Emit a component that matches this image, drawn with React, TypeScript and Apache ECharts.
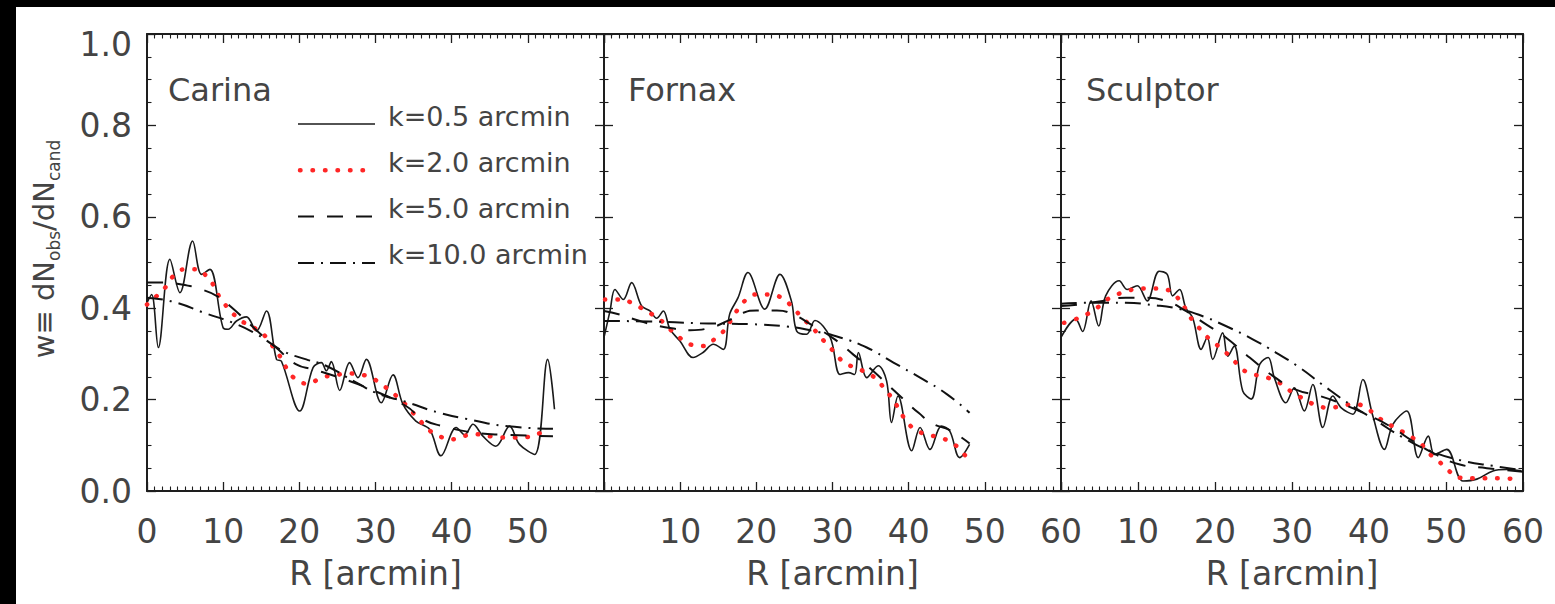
import React, { useEffect, useRef } from "react";
import * as echarts from "echarts";

// ---------- data ----------
const panelNames = ["Carina", "Fornax", "Sculptor"];
const legendLabels = ["k=0.5 arcmin", "k=2.0 arcmin", "k=5.0 arcmin", "k=10.0 arcmin"];
const xTickMin = 0;
const xTickMax = 60;
const xTickStep = 10;
const yTickMin = 0;
const yTickMax = 1;
const yTickStep = 0.2;
const xAxisTitle = "R [arcmin]";

const carinaK05: number[][] = [[0,0.412],[0.61,0.430],[1.49,0.314],[3.01,0.507],[4.33,0.434],[5.99,0.547],[7.16,0.474],[8.26,0.485],[10.0,0.357],[10.66,0.354],[11.75,0.372],[13.06,0.381],[14.37,0.350],[15.68,0.394],[17.0,0.288],[17.65,0.284],[20.05,0.175],[21.8,0.270],[22.9,0.281],[23.55,0.263],[24.2,0.283],[25.3,0.220],[26.6,0.281],[27.7,0.248],[28.8,0.288],[30.76,0.193],[32.3,0.254],[33.6,0.190],[35.3,0.153],[37.1,0.135],[38.6,0.077],[40.6,0.139],[41.7,0.123],[42.8,0.146],[44.1,0.120],[45.8,0.098],[47.6,0.142],[48.9,0.102],[50.9,0.080],[52.6,0.288],[53.5,0.179]];
const carinaK2: number[][] = [[0,0.408],[1.49,0.430],[2.58,0.449],[3.45,0.470],[4.98,0.485],[6.6,0.485],[7.82,0.470],[8.78,0.449],[9.57,0.423],[10.66,0.400],[11.75,0.381],[13.06,0.365],[14.37,0.354],[15.68,0.336],[16.78,0.310],[17.65,0.290],[18.5,0.264],[19.6,0.244],[21.1,0.235],[22.9,0.248],[24.6,0.253],[26.4,0.257],[27.9,0.255],[29.4,0.248],[31.0,0.231],[32.3,0.214],[33.6,0.195],[34.7,0.175],[35.8,0.155],[36.9,0.135],[38.4,0.120],[39.9,0.113],[41.5,0.120],[43.2,0.124],[45.0,0.120],[46.5,0.117],[48.2,0.117],[49.8,0.118],[51.5,0.126],[53.0,0.135]];
const carinaK5: number[][] = [[0,0.456],[1.92,0.456],[4.54,0.452],[7.16,0.441],[9.13,0.427],[10.9,0.405],[13.5,0.365],[17.2,0.310],[19.6,0.277],[21.8,0.266],[25.3,0.248],[29.7,0.220],[34.0,0.186],[36.2,0.157],[38.8,0.142],[42.8,0.128],[47.1,0.123],[53.3,0.120]];
const carinaK10: number[][] = [[0,0.423],[3.45,0.414],[7.82,0.388],[11.3,0.368],[14.4,0.343],[17.9,0.306],[20.9,0.288],[23.5,0.274],[27.5,0.237],[30.5,0.212],[34.0,0.195],[38.4,0.171],[42.8,0.155],[47.1,0.142],[53.3,0.136]];

const fornaxK05: number[][] = [[0,0.336],[0.79,0.394],[1.44,0.441],[2.54,0.419],[3.63,0.456],[4.94,0.405],[6.04,0.394],[6.91,0.378],[7.79,0.394],[8.66,0.354],[9.97,0.328],[11.7,0.292],[13.0,0.303],[14.35,0.321],[15.66,0.310],[16.5,0.387],[17.6,0.423],[18.9,0.478],[21.1,0.398],[23.1,0.474],[24.6,0.416],[25.3,0.350],[26.6,0.343],[27.7,0.373],[29.7,0.336],[31.0,0.255],[32.1,0.259],[32.9,0.255],[33.4,0.303],[34.5,0.248],[36.0,0.274],[37.1,0.241],[37.75,0.150],[38.6,0.208],[40.4,0.088],[41.5,0.139],[42.8,0.091],[44.3,0.142],[45.4,0.131],[46.7,0.073],[48.0,0.102]];
const fornaxK2: number[][] = [[0.13,0.419],[2.1,0.419],[3.63,0.412],[4.94,0.400],[6.26,0.387],[7.57,0.372],[8.66,0.354],[9.89,0.336],[11.3,0.321],[12.8,0.317],[14.8,0.336],[15.9,0.354],[16.75,0.376],[17.6,0.398],[18.7,0.419],[20.0,0.430],[21.8,0.430],[23.3,0.423],[24.6,0.405],[25.7,0.385],[27.0,0.363],[28.1,0.344],[29.2,0.322],[30.3,0.303],[31.4,0.283],[32.9,0.270],[34.5,0.259],[35.8,0.244],[36.9,0.222],[37.9,0.201],[38.8,0.177],[39.7,0.153],[41.0,0.133],[42.6,0.123],[44.1,0.117],[45.6,0.106],[46.9,0.088],[47.9,0.066]];
const fornaxK5: number[][] = [[0,0.394],[2.3,0.385],[4.5,0.373],[6.7,0.363],[8.9,0.356],[11.3,0.352],[13.9,0.357],[16.3,0.373],[18.3,0.390],[20.0,0.395],[22.7,0.395],[24.6,0.388],[27.5,0.361],[30.1,0.334],[32.7,0.299],[35.3,0.263],[37.3,0.232],[39.3,0.201],[41.3,0.171],[43.2,0.147],[45.4,0.133],[48.0,0.104]];
const fornaxK10: number[][] = [[0,0.372],[6.0,0.371],[12.6,0.367],[19.2,0.365],[24.0,0.360],[27.5,0.350],[31.0,0.336],[34.5,0.314],[38.0,0.281],[41.5,0.248],[45.0,0.212],[48.0,0.171]];

const sculptorK05: number[][] = [[0,0.336],[1.9,0.376],[2.8,0.349],[3.9,0.416],[4.9,0.361],[5.8,0.427],[7.55,0.460],[8.6,0.441],[9.9,0.449],[11.2,0.416],[12.75,0.481],[13.8,0.474],[14.5,0.427],[15.4,0.441],[16.2,0.401],[17.1,0.379],[18.2,0.310],[19.0,0.336],[19.7,0.288],[21.0,0.346],[21.65,0.295],[22.5,0.317],[23.6,0.219],[24.7,0.201],[25.8,0.277],[26.9,0.292],[27.7,0.248],[29.2,0.193],[30.3,0.226],[31.6,0.175],[32.7,0.233],[34.0,0.139],[35.3,0.208],[36.4,0.182],[37.9,0.168],[39.2,0.244],[40.5,0.164],[42.0,0.091],[43.1,0.146],[44.9,0.175],[46.4,0.073],[47.7,0.120],[48.5,0.080],[50.1,0.091],[52.2,0.022],[54.0,0.026],[56.1,0.044],[57.9,0.047],[59.8,0.044]];
const sculptorK2: number[][] = [[0.4,0.368],[1.9,0.376],[3.4,0.387],[4.7,0.401],[6.0,0.419],[7.3,0.430],[8.85,0.439],[10.4,0.443],[12.1,0.443],[13.6,0.441],[14.9,0.427],[16.2,0.398],[17.1,0.373],[18.2,0.352],[19.3,0.332],[20.6,0.315],[21.9,0.295],[22.95,0.277],[24.25,0.259],[25.8,0.252],[27.5,0.244],[28.8,0.232],[30.1,0.215],[31.6,0.201],[33.1,0.188],[34.9,0.182],[36.4,0.186],[38.1,0.190],[39.65,0.182],[40.95,0.164],[42.5,0.147],[43.8,0.135],[45.3,0.120],[46.6,0.106],[47.7,0.084],[49.0,0.066],[50.3,0.045],[51.8,0.029],[53.5,0.028],[55.1,0.028],[56.8,0.028],[58.3,0.027],[59.8,0.026]];
const sculptorK5: number[][] = [[0,0.405],[2.3,0.408],[5.4,0.416],[8.4,0.423],[11.0,0.423],[13.6,0.416],[16.2,0.394],[18.8,0.365],[21.4,0.336],[24.5,0.292],[27.5,0.252],[30.5,0.222],[33.6,0.208],[36.6,0.190],[39.65,0.168],[42.7,0.142],[45.7,0.109],[48.8,0.079],[51.8,0.058],[55.3,0.050],[60.0,0.042]];
const sculptorK10: number[][] = [[0,0.410],[4.1,0.412],[8.4,0.412],[11.9,0.407],[14.9,0.400],[18.0,0.385],[21.4,0.361],[24.9,0.332],[27.9,0.303],[31.0,0.270],[34.0,0.232],[37.5,0.190],[41.0,0.153],[44.4,0.117],[47.9,0.088],[52.2,0.066],[56.1,0.055],[60.0,0.045]];

const panelData = [
  [carinaK05, carinaK2, carinaK5, carinaK10],
  [fornaxK05, fornaxK2, fornaxK5, fornaxK10],
  [sculptorK05, sculptorK2, sculptorK5, sculptorK10],
];

// ---------- styles ----------
const FONT = "DejaVu Sans";
const TEXT = "#444444";
const AXIS = "#1e1e1e";
const lineStyles = [
  { color: "#1a1a1a", width: 1.6, type: "solid" as any, cap: "butt", smooth: 0.35 },
  { color: "#ff2626", width: 4.5, type: [0.5, 12] as any, cap: "round", smooth: 0.5 },
  { color: "#111111", width: 2, type: [16, 13] as any, cap: "butt", smooth: 0.5 },
  { color: "#111111", width: 2, type: [16, 7, 2, 7] as any, cap: "butt", smooth: 0.5 },
];
const drawOrder = [0, 2, 3, 1];

const gridTop = 34;
const gridHeight = 457;
const grids = [
  { left: 147, width: 457 },
  { left: 604, width: 457 },
  { left: 1061, width: 462 },
];

export default function App() {
  const ref = useRef<HTMLDivElement>(null);
  useEffect(() => {
    if (!ref.current) return;
    const chart = echarts.init(ref.current, undefined, { renderer: "svg" });

    const tickCommon = (len: number) => ({
      show: true,
      inside: true,
      length: len,
      lineStyle: { color: AXIS, width: 1.3 },
    });
    const xAxes: any[] = [];
    const yAxes: any[] = [];
    grids.forEach((g, i) => {
      const baseX = {
        gridIndex: i,
        type: "value",
        min: xTickMin,
        max: xTickMax,
        interval: xTickStep,
        axisLine: { show: true, onZero: false, lineStyle: { color: AXIS, width: 2 } },
        axisTick: tickCommon(9),
        minorTick: { show: true, splitNumber: 10, length: 4.5, lineStyle: { color: AXIS, width: 1.1 } },
        splitLine: { show: false },
        minorSplitLine: { show: false },
      };
      xAxes.push({
        ...baseX,
        position: "bottom",
        axisLabel: {
          show: true,
          margin: 24,
          fontSize: 33,
          fontFamily: FONT,
          color: TEXT,
          showMinLabel: i === 0,
          showMaxLabel: i !== 0,
        },
        name: xAxisTitle,
        nameLocation: "middle",
        nameGap: 66,
        nameTextStyle: { fontSize: 33, fontFamily: FONT, color: TEXT },
      });
      xAxes.push({ ...baseX, position: "top", axisLabel: { show: false } });

      const baseY = {
        gridIndex: i,
        type: "value",
        min: yTickMin,
        max: yTickMax,
        interval: yTickStep,
        axisLine: { show: true, onZero: false, lineStyle: { color: AXIS, width: 2 } },
        axisTick: tickCommon(9),
        minorTick: { show: true, splitNumber: 4, length: 4.5, lineStyle: { color: AXIS, width: 1.1 } },
        splitLine: { show: false },
        minorSplitLine: { show: false },
      };
      yAxes.push({
        ...baseY,
        position: "left",
        axisLabel: {
          show: i === 0,
          margin: 15,
          fontSize: 33,
          fontFamily: FONT,
          color: TEXT,
          formatter: (v: number) => (v === yTickMax ? "{t|" + v.toFixed(1) + "}" : v.toFixed(1)),
          rich: { t: { fontSize: 33, fontFamily: FONT, color: TEXT, padding: [20, 0, 0, 0] } },
        },
      });
      yAxes.push({ ...baseY, position: "right", axisLabel: { show: false } });
    });

    const series: any[] = [];
    panelData.forEach((curves, p) => {
      drawOrder.forEach((k) => {
        const st = lineStyles[k];
        series.push({
          type: "line",
          name: legendLabels[k],
          xAxisIndex: p * 2,
          yAxisIndex: p * 2,
          data: curves[k],
          symbol: "none",
          showSymbol: false,
          smooth: st.smooth,
          silent: true,
          lineStyle: { color: st.color, width: st.width, type: st.type, cap: st.cap },
          z: 2 + k,
        });
      });
    });

    const graphic: any[] = [
      { type: "rect", left: 0, top: 0, shape: { width: 1555, height: 7 }, style: { fill: "#000" }, z: 100 },
      { type: "rect", left: 0, top: 0, shape: { width: 16, height: 604 }, style: { fill: "#000" }, z: 100 },
    ];
    const nameX = [168, 628, 1086];
    panelNames.forEach((n, i) => {
      graphic.push({
        type: "text",
        x: nameX[i],
        y: 90,
        style: { text: n, fontSize: 32, fontFamily: FONT, fill: TEXT, align: "left", verticalAlign: "middle" },
        z: 50,
      });
    });
    // legend
    legendLabels.forEach((lab, k) => {
      const st = lineStyles[k];
      const yLine = 124 + 46.3 * k;
      graphic.push({
        type: "line",
        shape: { x1: k === 1 ? 300 : 298, y1: yLine, x2: k === 1 ? 367 : 375, y2: yLine },
        style: {
          stroke: st.color,
          lineWidth: st.width,
          lineDash: Array.isArray(st.type) ? st.type : null,
          lineCap: st.cap,
        },
        z: 50,
      });
      graphic.push({
        type: "text",
        x: 388,
        y: 116 + 46.3 * k,
        style: { text: lab, fontSize: 27, fontFamily: FONT, fill: TEXT, align: "left", verticalAlign: "middle" },
        z: 50,
      });
    });
    // y axis title
    graphic.push({
      type: "text",
      x: 46,
      y: 249,
      rotation: Math.PI / 2,
      style: {
        text: "{m|w≡ dN}{s|obs}{m|/dN}{s|cand}",
        align: "center",
        verticalAlign: "middle",
        rich: {
          m: { fontSize: 29, fontFamily: FONT, fill: TEXT, padding: [0, 0, 4, 0] },
          s: { fontSize: 17, fontFamily: FONT, fill: TEXT, verticalAlign: "bottom" },
        },
      },
      z: 50,
    });

    chart.setOption({
      animation: false,
      backgroundColor: "#ffffff",
      textStyle: { fontFamily: FONT },
      grid: grids.map((g) => ({
        left: g.left,
        width: g.width,
        top: gridTop,
        height: gridHeight,
        containLabel: false,
        outerBoundsMode: "none",
      })),
      xAxis: xAxes,
      yAxis: yAxes,
      series,
      graphic,
    });
    return () => chart.dispose();
  }, []);
  return (
    <div
      ref={ref}
      style={{ position: "fixed", left: 0, top: 0, width: 1555, height: 604 }}
    />
  );
}
